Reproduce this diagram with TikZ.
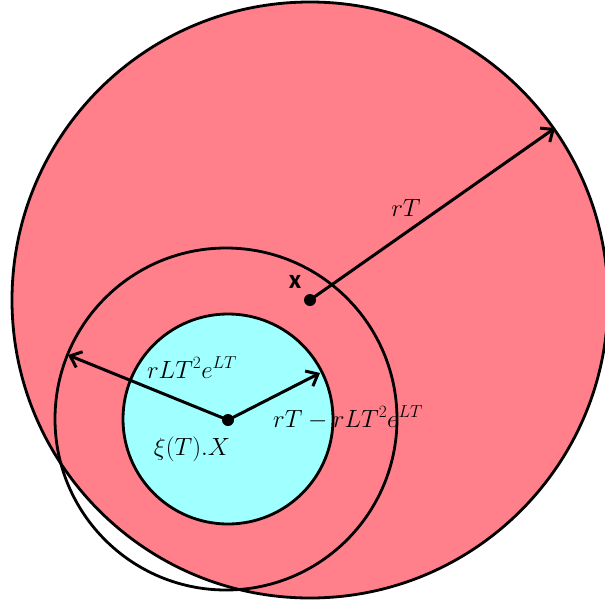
\documentclass[tikz,border=0pt]{standalone}
\usepackage{fontspec}
\newfontfamily\lblsans{Carlito}
\usetikzlibrary{arrows.meta}
\definecolor{bigpink}{RGB}{255,127,138}
\definecolor{lightcyan}{RGB}{160,255,255}
\tikzset{
  ring/.style={line width=2.8pt},
  radius arrow/.style={line width=3pt,-{Straight Barb[length=10pt,width=17pt,line width=3pt]}},
  dotmark/.style={circle,fill=black,inner sep=0pt,minimum size=12pt},
  mathlbl/.style={font=\fontsize{25}{29}\selectfont,inner sep=0pt,anchor=base},
}
\begin{document}
\begin{tikzpicture}[x=1pt,y=-1pt]
\useasboundingbox (0,0) rectangle (605,606);
% big circle
\draw[ring,fill=bigpink] (310,300) circle[radius=298];
% middle circle (outline only)
\draw[ring] (226,419) circle[radius=171];
% inner cyan circle
\draw[ring,fill=lightcyan] (228,419) circle[radius=105];
% points
\node[dotmark] (px) at (310,300) {};
\node[dotmark] (pc) at (228,420) {};
\coordinate (tipbig) at (555,128);
\coordinate (tipleft) at (68,355);
\coordinate (tipright) at (320,373);
\draw[radius arrow] (px.center) -- (tipbig);
\draw[radius arrow] (pc.center) -- (tipleft);
\draw[radius arrow] (pc.center) -- (tipright);
% labels
\node[font=\lblsans\bfseries\fontsize{27}{30}\selectfont,inner sep=0pt] (lx) at (295,282) {x};
\node[mathlbl] (lrt) at (406,216) {$rT$};
\node[mathlbl] (lrl) at (192,378) {$rLT^2e^{LT}$};
\node[mathlbl] (ldiff) at (348,427) {$rT-rLT^2e^{LT}$};
\node[mathlbl] (lxi) at (192,455) {$\xi(T).X$};
\end{tikzpicture}
\end{document}
